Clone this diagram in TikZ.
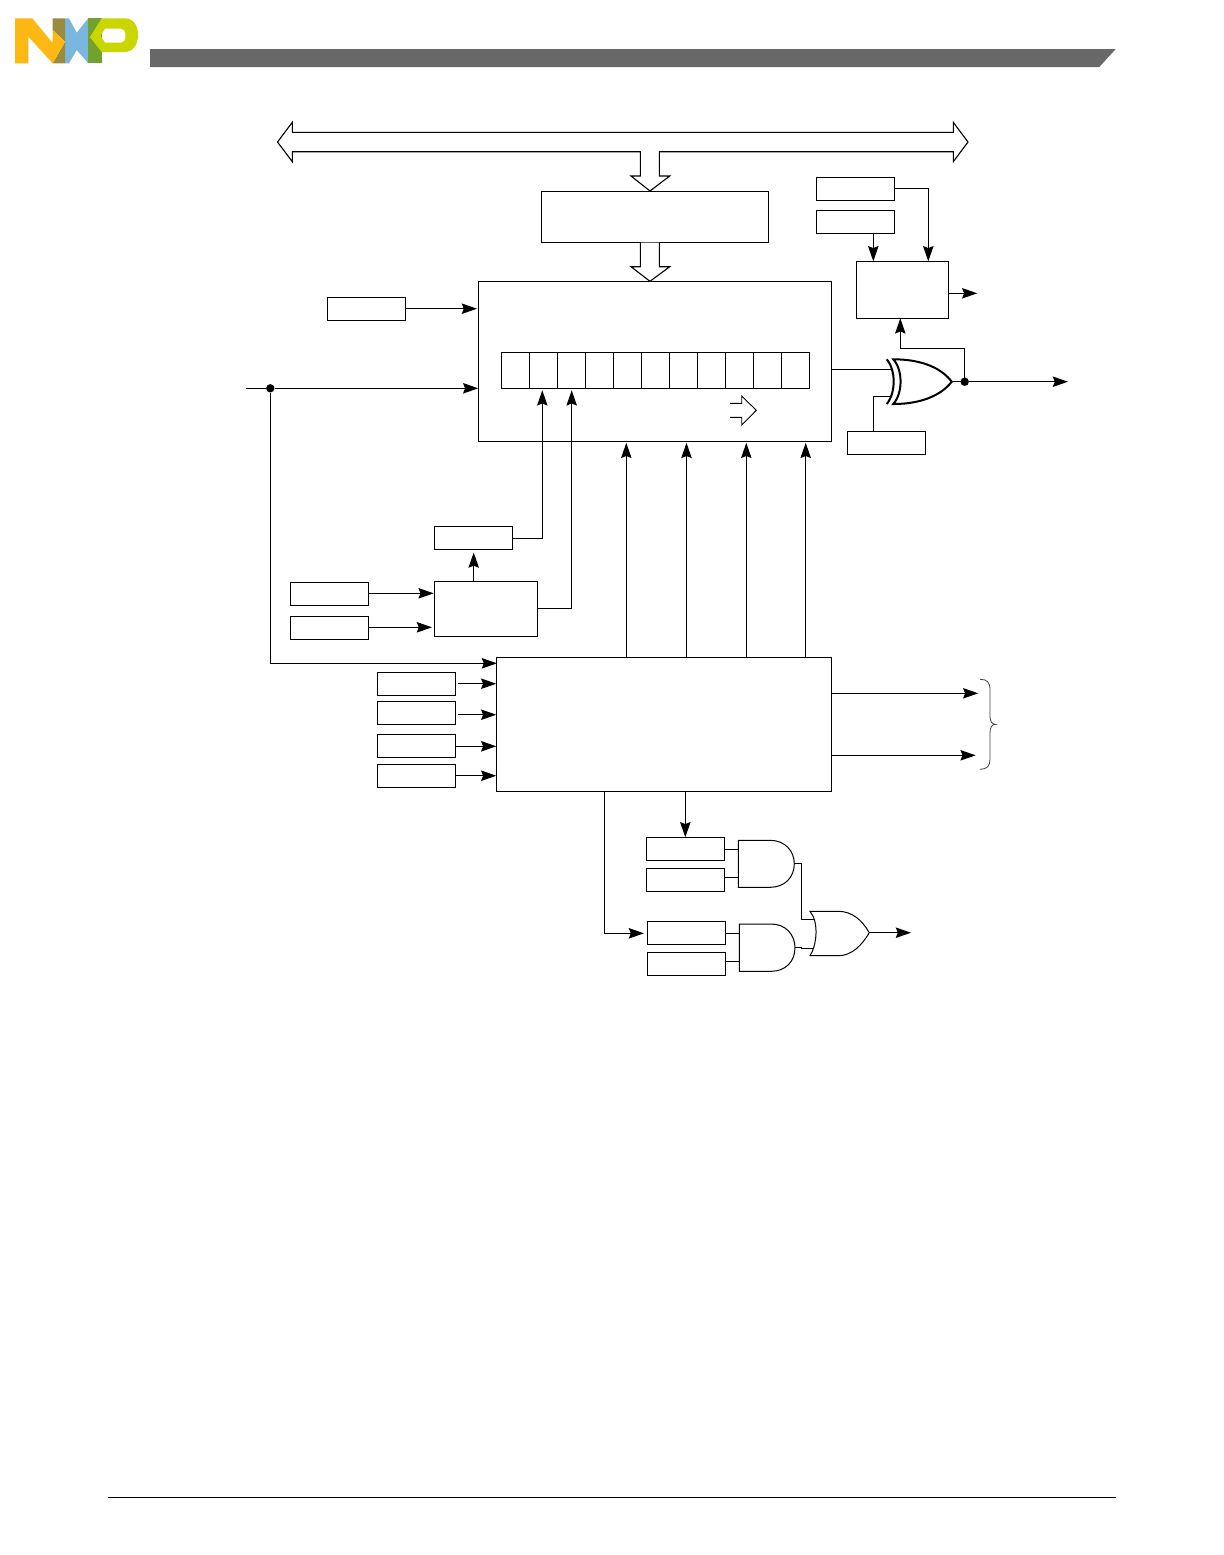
\documentclass[tikz,border=0pt]{standalone}
\usetikzlibrary{arrows.meta,calc}
\definecolor{nxporange}{HTML}{FDB813}
\definecolor{nxpkhaki}{HTML}{9B8B3E}
\definecolor{nxpblue}{HTML}{7AB6E0}
\definecolor{nxpgreen}{HTML}{6FA32E}
\definecolor{nxplime}{HTML}{C9D600}
\definecolor{barsgray}{HTML}{686868}
\tikzset{
  box/.style={draw=black,line width=0.55pt,inner sep=0pt,outer sep=0pt,fill=white},
  wire/.style={draw=black,line width=0.55pt},
  conn/.style={wire,-{Stealth[length=7.6pt,width=5.2pt,inset=1pt]}},
  hollow/.style={draw=black,line width=0.55pt,fill=white,line join=miter},
  gate/.style={draw=black,line width=0.5pt,fill=white},
  xgate/.style={draw=black,line width=1pt,fill=white},
  dotn/.style={circle,fill=black,inner sep=0pt,minimum size=4.2pt,outer sep=0pt}
}
\newcommand{\drawbox}[5]{%
  \pgfmathsetmacro\bxw{(#4-#2)*0.5}%
  \pgfmathsetmacro\bxh{(#5-#3)*0.5}%
  \node[box,minimum width=\bxw pt,minimum height=\bxh pt] (#1) at ({(#2+#4)/2},{(#3+#5)/2}) {};}
\begin{document}
\begin{tikzpicture}[x=0.5pt,y=-0.5pt]
\useasboundingbox (0,0) rectangle (1224,1555);
% logo
\fill[nxpblue] (65,18.3) -- (69,18.3) -- (76.7,32.7) -- (88.3,18.3) -- (88.3,63.3) -- (76.7,50) -- (69,63.3) -- (65,63.3) -- cycle;
\fill[nxpkhaki] (52.7,18.3) -- (65,18.3) -- (65,41.7) -- (52.7,30) -- cycle;
\fill[nxpkhaki] (65,41.7) -- (65,63.3) -- (52.7,63.3) -- cycle;
\fill[nxporange] (15,18.3) -- (32.3,18.3) -- (52.7,43) -- (52.7,30) -- (65,41.7) -- (52.7,63.3) -- (28.3,36.7) -- (28.3,63.3) -- (15,63.3) -- cycle;
\fill[nxpgreen] (88.3,18.3) -- (101.7,18.3) -- (101.7,63.3) -- (88.3,63.3) -- cycle;
\fill[nxplime,even odd rule] (101.7,18.3) -- (125,18.3) .. controls (133,18.3) and (138,25) .. (138,35) .. controls (138,46) and (132,52) .. (124,52) -- (101.7,52) -- (90,37) -- cycle
  (105,28.7) -- (121,28.7) .. controls (124,28.7) and (125.5,31) .. (125.5,35.7) .. controls (125.5,40) and (124,42.7) .. (121,42.7) -- (105,42.7) -- (100.5,35.7) -- cycle;
% header and footer
\fill[barsgray] (150,49) -- (1115.7,49) -- (1099.3,67) -- (150,67) -- cycle;
\coordinate (footL) at (108,1497);
\coordinate (footR) at (1116,1497);
\draw[line width=0.4pt] (footL) -- (footR);
% bus
\path[hollow] (277.5,142) -- (292.3,122.3) -- (292.3,132.3) -- (953.3,132.3) -- (953.3,122.3) -- (968,142) -- (953.3,161.7) -- (953.3,151.7) -- (659.3,151.7) -- (659.3,176) -- (669.7,176) -- (650,191) -- (631,176) -- (640.3,176) -- (640.3,151.7) -- (292.3,151.7) -- (292.3,161.7) -- cycle;
% boxes
\drawbox{ctl}{541.3}{191.3}{768.3}{242.5}
\path[hollow] (640.3,242.5) -- (640.3,266.7) -- (631,266.7) -- (650,281.3) -- (669.7,266.7) -- (659.3,266.7) -- (659.3,242.5);
\drawbox{main}{478.3}{281.3}{831.7}{441.3}
\drawbox{low}{496.3}{657.3}{831.7}{791.3}
\drawbox{a}{327.3}{297.3}{405.5}{320.5}
\drawbox{b}{434.3}{526.3}{512.7}{549.5}
\drawbox{c}{434.3}{581.3}{537.7}{636.3}
\drawbox{d}{290.3}{582.3}{368.7}{605.5}
\drawbox{e}{290.3}{616.3}{368.7}{639.5}
\drawbox{f}{377.3}{672.3}{455.7}{695.5}
\drawbox{g}{377.3}{701.3}{455.7}{724.5}
\drawbox{h}{377.3}{734.3}{455.7}{757.5}
\drawbox{i}{377.3}{764.3}{455.7}{787.5}
\drawbox{j}{816.3}{177.3}{894.7}{200.7}
\drawbox{k}{816.3}{210.3}{894.7}{233.5}
\drawbox{m}{856.3}{261.3}{948.3}{318.3}
\drawbox{n}{847.3}{431.3}{925.3}{454.5}
\drawbox{p}{646.3}{837.3}{724.7}{860.5}
\drawbox{q}{646.3}{868.3}{724.7}{891.5}
\drawbox{r}{647.3}{921.3}{725.7}{944.5}
\drawbox{s}{647.3}{952.3}{725.7}{975.5}
% register cells
\foreach \ci in {0,...,10}{
  \pgfmathsetmacro\cl{501.7+28*\ci}
  \pgfmathsetmacro\cr{\cl+28}
  \drawbox{cell\ci}{\cl}{352.7}{\cr}{388.3}
}
% small direction arrow
\draw[line width=0.45pt] (730,403.3) -- (741.7,403.3) -- (741.7,396) -- (756.3,410.3) -- (741.7,425) -- (741.7,417.3) -- (730,417.3);
% ports
\coordinate (inL) at (246,388.3);
\node[dotn] (j1) at (270.3,388.3) {};
\coordinate (bIn) at (542.3,390.3);
\coordinate (cIn) at (571.7,390.3);
\coordinate (aOut) at (477,308.7);
\coordinate (lowA) at (626.3,442.8);
\coordinate (lowB) at (686.5,442.8);
\coordinate (lowC) at (746.3,442.8);
\coordinate (lowD) at (805.7,442.8);
\coordinate (lowIn) at (497,663.3);
\coordinate (oTop) at (978.3,693.3);
\coordinate (oBot) at (975.7,755.3);
% inputs to main
\coordinate (aS) at (405.5,308.7);
\draw[conn] (aS) -- (aOut);
\draw[conn] (inL) -- (j1) -- (j1 -| main.west);
\draw[conn] (j1) |- (lowIn);
% to register
\coordinate (bOut) at (512.7,538.3);
\draw[conn] (bOut) -| (bIn);
\coordinate (cOut) at (537.7,608.3);
\draw[conn] (cOut) -| (cIn);
\coordinate (cTop) at (473.7,581.3);
\coordinate (bBot) at (473.7,552.5);
\draw[conn] (cTop) -- (bBot);
\coordinate (dS) at (368.7,593.3);
\coordinate (dT) at (433.7,593.3);
\coordinate (eS) at (368.7,627.3);
\coordinate (eT) at (432,627.3);
\draw[conn] (dS) -- (dT);
\draw[conn] (eS) -- (eT);
% low to main
\foreach \pp in {lowA,lowB,lowC,lowD}{
  \draw[conn] (\pp |- low.north) -- (\pp);
}
% inputs to low
\coordinate (fS) at (458,683.7);
\coordinate (gS) at (458,714.7);
\draw[conn] (fS) -- (fS -| low.west);
\draw[conn] (gS) -- (gS -| low.west);
\coordinate (hS) at (455.7,746.3);
\coordinate (iS) at (455.7,775.7);
\draw[conn] (hS) -- (hS -| low.west);
\draw[conn] (iS) -- (iS -| low.west);
% low outputs
\draw[conn] (oTop -| low.east) -- (oTop);
\draw[conn] (oBot -| low.east) -- (oBot);
\draw[line width=0.4pt,draw=black!75] (980,679.3) .. controls (987,679.3) and (990,682) .. (990,690) -- (990,715) .. controls (990,722) and (992,724.3) .. (995.7,724.3) .. controls (992,724.3) and (990,727) .. (990,733) -- (990,759) .. controls (990,766) and (987,769.3) .. (980,769.3);
% top right
\coordinate (mIn1) at (873.3,261.3);
\coordinate (mIn2) at (928.3,261.3);
\coordinate (jS) at (894.7,188.3);
\draw[conn] (jS) -| (mIn2);
\draw[conn] (mIn1 |- k.south) -- (mIn1);
\coordinate (mOut) at (977.3,293.3);
\draw[conn] (mOut -| m.east) -- (mOut);
% xor
\coordinate (xa) at (891,369.3);
\coordinate (xb) at (890,396.3);
\node[dotn] (j2) at (964.7,381.7) {};
\coordinate (xo) at (951.7,381.7);
\coordinate (oOut) at (1068,381.7);
\coordinate (fb) at (900.3,348.3);
\draw[wire] (xa -| main.east) -- (xa);
\draw[wire] (n.north -| mIn1) |- (xb);
\path[xgate] (893.3,359.3) .. controls (925,359.3) and (943,370) .. (951.7,381.7) .. controls (943,393) and (925,404) .. (893.3,404) .. controls (903,393) and (903,370) .. (893.3,359.3) -- cycle;
\draw[line width=1pt] (886.7,359.3) .. controls (896,370) and (896,393) .. (886.7,404);
\draw[conn] (j2) -- (oOut);
\draw[wire] (xo) -- (j2);
\draw[conn] (j2) |- (fb) -- (fb |- m.south);
% lower
\coordinate (lowP) at (685.3,791.3);
\draw[conn] (lowP) -- (p.north -| lowP);
\coordinate (lowR) at (604.3,791.3);
\coordinate (rIn) at (644,933.3);
\draw[conn] (lowR) |- (rIn);
% and gates
\coordinate (a1i) at (738.3,849.3);
\coordinate (a2i) at (738.3,877.3);
\coordinate (b1i) at (739.3,933.3);
\coordinate (b2i) at (739.3,961.3);
\draw[wire] (a1i -| p.east) -- (a1i);
\draw[wire] (a2i -| q.east) -- (a2i);
\draw[wire] (b1i -| r.east) -- (b1i);
\draw[wire] (b2i -| s.east) -- (b2i);
\path[gate] (738.3,840.3) -- (770,840.3) .. controls (785,840.3) and (794.3,851) .. (794.3,863.8) .. controls (794.3,877) and (785,887.3) .. (770,887.3) -- (738.3,887.3) -- cycle;
\path[gate] (739.3,924) -- (771,924) .. controls (786,924) and (795,935) .. (795,947.7) .. controls (795,961) and (786,971.3) .. (771,971.3) -- (739.3,971.3) -- cycle;
% or gate wires
\coordinate (ao) at (794.3,863.3);
\coordinate (bo) at (795,947.3);
\coordinate (oi1) at (814,919.3);
\coordinate (oi2) at (814,948.3);
\coordinate (wx) at (801.3,890);
\draw[wire] (ao) -| (wx) |- (oi1);
\draw[wire] (bo) -- (801.3,947.3) -- (801.3,948.3) -- (oi2);
\path[gate] (810,911.3) -- (838.3,911.3) .. controls (852,911.3) and (862,920) .. (869.3,932.7) .. controls (862,945) and (852,955.7) .. (838.3,955.7) -- (810,955.7) .. controls (817,945) and (819,922) .. (810,911.3) -- cycle;
\coordinate (oro) at (869.3,932.7);
\coordinate (orT) at (911,932.7);
\draw[conn] (oro) -- (orT);
\end{tikzpicture}
\end{document}
